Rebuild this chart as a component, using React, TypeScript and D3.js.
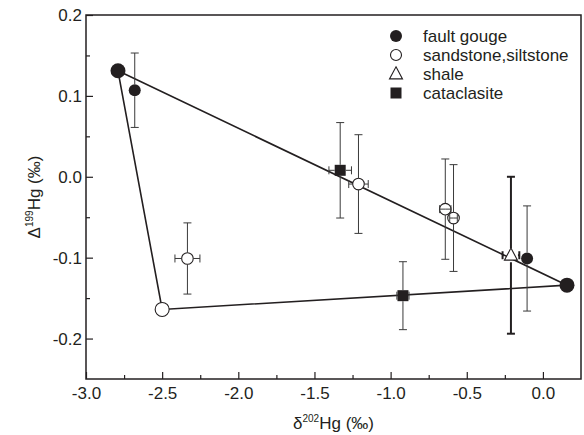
import React, { useEffect, useRef } from "react";
import * as d3 from "d3";

const xTicks = [-3.0, -2.5, -2.0, -1.5, -1.0, -0.5, 0.0];
const xMinorTicks = [-2.75, -2.25, -1.75, -1.25, -0.75, -0.25];
const yTicks = [-0.2, -0.1, 0.0, 0.1, 0.2];
const yMinorTicks = [-0.15, -0.05, 0.05, 0.15];

// end members of the mixing triangle (in drawing order)
const endMembers = [
  { type: "fault gouge", x: -2.79, y: 0.131 },
  { type: "fault gouge", x: 0.158, y: -0.134 },
  { type: "sandstone,siltstone", x: -2.5, y: -0.164 },
];

const faultGouge = [
  { x: -2.68, y: 0.107, ex: 0, ey: 0.046 },
  { x: -0.104, y: -0.101, ex: 0, ey: 0.065 },
];

const sandstone = [
  { x: -2.334, y: -0.101, ex: 0.082, ey: 0.044 },
  { x: -1.211, y: -0.009, ex: 0.064, ey: 0.061 },
  { x: -0.641, y: -0.04, ex: 0.037, ey: 0.062 },
  { x: -0.587, y: -0.051, ex: 0.025, ey: 0.066 },
];

const shale = [{ x: -0.21, y: -0.097, ex: 0.055, ey: 0.097 }];

const cataclasite = [
  { x: -1.331, y: 0.008, ex: 0.074, ey: 0.059 },
  { x: -0.919, y: -0.147, ex: 0.04, ey: 0.042 },
];

const legendLabels = ["fault gouge", "sandstone,siltstone", "shale", "cataclasite"];

const ink = "#231f20";
const font = "'Liberation Sans', Arial, sans-serif";

const App = () => {
  const svgRef = useRef(null);
  const width = 584;
  const height = 435;

  useEffect(() => {
    const svg = d3.select(svgRef.current);
    svg.selectAll("*").remove();

    const margin = { top: 15, right: 3, bottom: 56, left: 86 };
    const x = d3.scaleLinear().domain([-3, 0.25]).range([margin.left, width - margin.right]);
    const y = d3.scaleLinear().domain([-0.25, 0.2]).range([height - margin.bottom, margin.top]);
    const bottom = height - margin.bottom;

    // axes, ticks pointing inward
    const gx = svg
      .append("g")
      .attr("transform", `translate(0,${bottom})`)
      .call(d3.axisBottom(x).tickValues(xTicks).tickSize(-7).tickPadding(8).tickFormat((d) => d.toFixed(1)));
    svg
      .append("g")
      .attr("transform", `translate(0,${bottom})`)
      .call(d3.axisBottom(x).tickValues(xMinorTicks).tickSize(-4).tickFormat(() => ""));
    const gy = svg
      .append("g")
      .attr("transform", `translate(${margin.left},0)`)
      .call(d3.axisLeft(y).tickValues(yTicks).tickSize(-7).tickPadding(4).tickFormat((d) => d.toFixed(1)));
    svg
      .append("g")
      .attr("transform", `translate(${margin.left},0)`)
      .call(d3.axisLeft(y).tickValues(yMinorTicks).tickSize(-4).tickFormat(() => ""));

    svg.selectAll(".domain").remove();
    svg.selectAll(".tick line").attr("stroke", ink).attr("stroke-width", 1.2);
    [gx, gy].forEach((g) =>
      g.selectAll("text").attr("fill", ink).attr("font-size", 17).attr("font-family", font)
    );

    // frame
    svg
      .append("rect")
      .attr("x", margin.left)
      .attr("y", margin.top)
      .attr("width", width - margin.left - margin.right)
      .attr("height", height - margin.top - margin.bottom)
      .attr("fill", "none")
      .attr("stroke", ink)
      .attr("stroke-width", 1.5);

    // mixing triangle
    svg
      .append("path")
      .attr("d", d3.line().x((d) => x(d.x)).y((d) => y(d.y))(endMembers) + "Z")
      .attr("fill", "none")
      .attr("stroke", ink)
      .attr("stroke-width", 1.6);

    const marker = (g, kind, cx, cy, s) => {
      if (kind === "fault gouge") {
        g.append("circle").attr("cx", cx).attr("cy", cy).attr("r", s).attr("fill", ink);
      } else if (kind === "sandstone,siltstone") {
        g.append("circle").attr("cx", cx).attr("cy", cy).attr("r", s)
          .attr("fill", "#fff").attr("stroke", ink).attr("stroke-width", 1.1);
      } else if (kind === "shale") {
        g.append("path")
          .attr("d", `M${cx},${cy - s * 1.1}L${cx + s},${cy + s * 0.75}L${cx - s},${cy + s * 0.75}Z`)
          .attr("fill", "#fff").attr("stroke", ink).attr("stroke-width", 1.1);
      } else {
        g.append("rect").attr("x", cx - s).attr("y", cy - s).attr("width", 2 * s).attr("height", 2 * s)
          .attr("fill", ink);
      }
    };

    // error bars drawn outside the symbol, or inside if shorter than it
    const errorBars = (g, d, r, color, w) => {
      const cx = x(d.x);
      const cy = y(d.y);
      const cap = 4;
      const seg = (x1, y1, x2, y2) =>
        g.append("line").attr("x1", x1).attr("y1", y1).attr("x2", x2).attr("y2", y2)
          .attr("stroke", color).attr("stroke-width", w);
      if (d.ey) {
        const t = y(d.y + d.ey);
        const b = y(d.y - d.ey);
        const gap = cy - t > r ? r : 0;
        seg(cx, t, cx, cy - gap);
        seg(cx, cy + gap, cx, b);
        seg(cx - cap, t, cx + cap, t);
        seg(cx - cap, b, cx + cap, b);
      }
      if (d.ex) {
        const l = x(d.x - d.ex);
        const rr = x(d.x + d.ex);
        const gap = cx - l > r ? r : 0;
        seg(l, cy, cx - gap, cy);
        seg(cx + gap, cy, rr, cy);
        seg(l, cy - cap, l, cy + cap);
        seg(rr, cy - cap, rr, cy + cap);
      }
    };

    const pts = svg.append("g");
    const groups = [
      { kind: "fault gouge", data: faultGouge, s: 6, color: "#3a3a3a", w: 1 },
      { kind: "sandstone,siltstone", data: sandstone, s: 5.8, color: "#3a3a3a", w: 1 },
      { kind: "shale", data: shale, s: 6.5, color: ink, w: 2 },
      { kind: "cataclasite", data: cataclasite, s: 5.5, color: "#3a3a3a", w: 1 },
    ];
    groups.forEach((grp) =>
      grp.data.forEach((d) => {
        marker(pts, grp.kind, x(d.x), y(d.y), grp.s);
        errorBars(pts, d, grp.kind === "shale" ? 7 : grp.s, grp.color, grp.w);
      })
    );
    endMembers.forEach((d) =>
      marker(pts, d.type, x(d.x), y(d.y), d.type === "fault gouge" ? 7.5 : 7)
    );

    // legend
    const lg = svg.append("g");
    legendLabels.forEach((label, i) => {
      const ly = 36 + i * 19;
      const sizes = [6, 5.5, 6.5, 5.5];
      marker(lg, label, 396, ly, sizes[i]);
      lg.append("text")
        .attr("x", 423)
        .attr("y", ly)
        .attr("dy", "0.35em")
        .attr("font-size", 17)
        .attr("font-family", font)
        .attr("fill", ink)
        .text(label);
    });

    // axis titles
    const xt = svg
      .append("text")
      .attr("x", (margin.left + width - margin.right) / 2)
      .attr("y", 429)
      .attr("text-anchor", "middle")
      .attr("font-size", 17)
      .attr("font-family", font)
      .attr("fill", ink);
    xt.append("tspan").text("δ");
    xt.append("tspan").attr("font-size", 10).attr("dy", -7).text("202");
    xt.append("tspan").attr("dy", 7).text("Hg (‰)");

    const yt = svg
      .append("text")
      .attr("transform", `translate(39.5,${(margin.top + bottom) / 2}) rotate(-90)`)
      .attr("text-anchor", "middle")
      .attr("font-size", 17)
      .attr("font-family", font)
      .attr("fill", ink);
    yt.append("tspan").text("Δ");
    yt.append("tspan").attr("font-size", 10).attr("dy", -7).text("199");
    yt.append("tspan").attr("dy", 7).text("Hg (‰)");
  }, []);

  return (
    <svg
      ref={svgRef}
      width={width}
      height={height}
      style={{ position: "absolute", left: 0, top: 0, background: "#fff" }}
    />
  );
};

export default App;
